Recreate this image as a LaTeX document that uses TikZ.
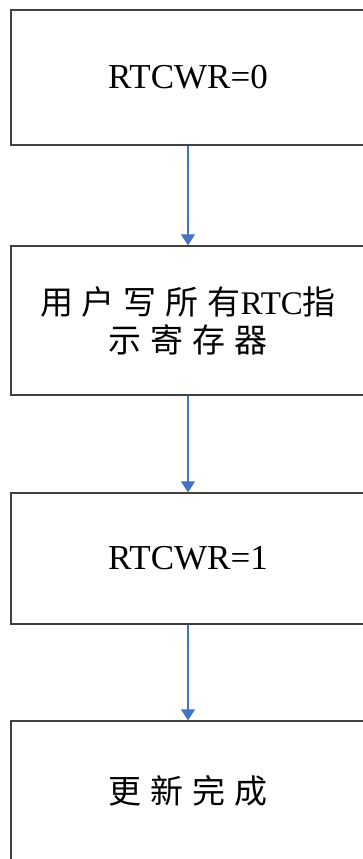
\documentclass[tikz,border=0pt]{standalone}
\usepackage{fontspec}
\setmainfont{Liberation Serif}
\newfontfamily\cjk[LetterSpace=27]{Noto Sans CJK SC}
\usetikzlibrary{arrows.meta}
\definecolor{flowblue}{RGB}{68,114,196}
\definecolor{boxline}{RGB}{64,64,64}

\begin{document}
\begin{tikzpicture}[x=1pt,y=-1pt,
		stepbox/.style={draw=boxline,line width=1.3pt,minimum width=354pt,inner sep=0pt,align=center},
		flow/.style={draw=flowblue,line width=1.1pt,-{Triangle[width=14pt,length=11pt]}}]
			\clip (0,0) rectangle (363,859);
			\node[stepbox,minimum height=135pt,font=\fontsize{35}{40}\selectfont] (wrzero) at (188,77.5) {RTCWR=0};
			\node[stepbox,minimum height=149pt,font=\fontsize{33}{38}\selectfont] (userwrite) at (188,320.5) {{\cjk 用户写所有}RTC{\cjk 指}\\{\cjk 示寄存器}};
			\node[stepbox,minimum height=131pt,font=\fontsize{35}{40}\selectfont] (wrone) at (188,558.5) {RTCWR=1};
			\node[stepbox,minimum height=140pt,font=\fontsize{33}{38}\selectfont] (done) at (188,791) {\cjk 更新完成};
			
			\draw[flow] (wrzero.south) -- (userwrite.north);
			\draw[flow] (userwrite.south) -- (wrone.north);
			\draw[flow] (wrone.south) -- (done.north);
		\end{tikzpicture}
\end{document}
